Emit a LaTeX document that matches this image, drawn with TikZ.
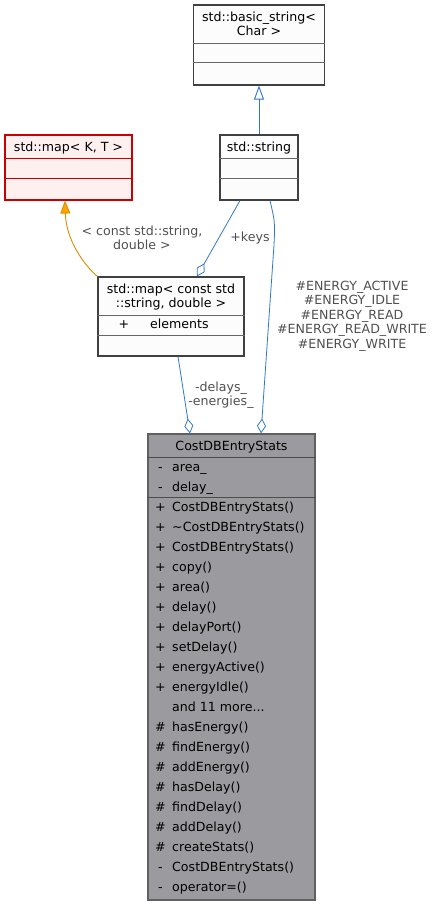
\documentclass[tikz,border=0pt]{standalone}
\usepackage{fontspec}
\setmainfont{DejaVu Sans}
\usetikzlibrary{arrows.meta,calc}
\definecolor{boxline}{HTML}{404040}
\definecolor{boxfill}{HTML}{FBFCFB}
\definecolor{redline}{HTML}{CC0000}
\definecolor{redfill}{HTML}{FFF0F0}
\definecolor{mainfill}{HTML}{9B9A9E}
\definecolor{mainline}{HTML}{606060}
\definecolor{edgeblue}{HTML}{3278C8}
\definecolor{edgeorange}{HTML}{D98E00}
\definecolor{arrorange}{HTML}{FFA500}
\definecolor{lblgray}{HTML}{505050}
\newcommand{\moretxt}{and 11 more...}
\newcommand{\hashsym}{\#}
\tikzset{
  lightbox/.style={draw=boxline, fill=boxfill, line width=1.1pt, inner sep=0pt, rectangle},
  redbox/.style={draw=redline, fill=redfill, line width=1.1pt, inner sep=0pt, rectangle},
  mainbox/.style={draw=mainline, fill=mainfill, line width=1.1pt, inner sep=0pt, rectangle},
  divline/.style={draw=gray!80!black, line width=0.9pt},
  txt/.style={anchor=base, inner sep=0pt},
  ltxt/.style={anchor=base west, inner sep=0pt},
  lbl/.style={text=lblgray, align=center, inner sep=0pt},
  inh/.style={draw=edgeblue, line width=0.9pt, -{Triangle[open, length=14pt, width=10pt]}},
  tmpl/.style={draw=edgeorange, line width=0.9pt, -{Triangle[length=13pt, width=10pt, fill=arrorange]}},
  uses/.style={draw=edgeblue, line width=0.8pt, -{Diamond[open, length=15pt, width=9pt]}}
}
\begin{document}
\begin{tikzpicture}[x=1pt,y=-1pt, font=\fontsize{12.6}{14.5}\selectfont]
\useasboundingbox (0,0) rectangle (435,905);

% std::basic_string<Char>
\node[lightbox, minimum width=131pt, minimum height=80pt] (bs) at (259,45) {};
\draw[divline] (bs.west |- 0,43) -- (bs.east |- 0,43);
\draw[divline] (bs.west |- 0,62) -- (bs.east |- 0,62);
\node[txt] (bst1) at (259,21.5) {std::basic\_string<};
\node[txt] (bst2) at (259,35.5) {Char >};

% std::map<K,T>
\node[redbox, minimum width=127pt, minimum height=65pt] (mkt) at (68.5,167.5) {};
\draw[redline, line width=0.9pt] (mkt.west |- 0,158) -- (mkt.east |- 0,158);
\draw[redline, line width=0.9pt] (mkt.west |- 0,178) -- (mkt.east |- 0,178);
\node[txt] (mktt) at (68.5,151.5) {std::map< K, T >};

% std::string
\node[lightbox, minimum width=78pt, minimum height=65pt] (str) at (259,167.5) {};
\draw[divline] (str.west |- 0,158) -- (str.east |- 0,158);
\draw[divline] (str.west |- 0,178) -- (str.east |- 0,178);
\node[txt] (strt) at (259,151.5) {std::string};

% std::map<const std::string,double>
\node[lightbox, minimum width=146pt, minimum height=79pt] (mc) at (171,316.5) {};
\draw[divline] (mc.west |- 0,315) -- (mc.east |- 0,315);
\draw[divline] (mc.west |- 0,335) -- (mc.east |- 0,335);
\node[txt] (mct1) at (171,293.5) {std::map< const std};
\node[txt] (mct2) at (171,307.5) {::string, double >};
\node[txt] (mcs) at (124,328.5) {+};
\node[ltxt] (mce) at (150,328.5) {elements};

% CostDBEntryStats
\node[mainbox, minimum width=167pt, minimum height=466pt] (cde) at (231.5,667) {};
\draw[divline, draw=gray!60!black] (cde.west |- 0,457) -- (cde.east |- 0,457);
\draw[divline, draw=gray!60!black] (cde.west |- 0,497) -- (cde.east |- 0,497);
\node[txt] (cdet) at (231.5,450.5) {CostDBEntryStats};
\node[txt] (a1s) at (160.5,471.5) {-};
\node[ltxt] (a1) at (172,471.5) {area\_};
\node[txt] (a2s) at (160.5,491.5) {-};
\node[ltxt] (a2) at (172,491.5) {delay\_};
\foreach \s/\t [count=\i from 0] in {
  +/CostDBEntryStats(),
  +/\textasciitilde CostDBEntryStats(),
  +/CostDBEntryStats(),
  +/copy(),
  +/area(),
  +/delay(),
  +/delayPort(),
  +/setDelay(),
  +/energyActive(),
  +/energyIdle(),
  {}/\moretxt,
  \hashsym/hasEnergy(),
  \hashsym/findEnergy(),
  \hashsym/addEnergy(),
  \hashsym/hasDelay(),
  \hashsym/findDelay(),
  \hashsym/addDelay(),
  \hashsym/createStats(),
  -/CostDBEntryStats(),
  -/operator=()
}{
  \node[txt] (ms\i) at (160.5,{511.5+20*\i}) {\s};
  \node[ltxt] (m\i) at (172,{511.5+20*\i}) {\t};
}

% edges
\draw[inh] (str.north) -- (bs.south);
\draw[tmpl] (mc.north west) .. controls (84,265) and (66,240) .. ([xshift=-3.5pt]mkt.south);
\draw[uses] ([xshift=-19pt]str.south) -- ([xshift=26pt]mc.north);
\draw[uses] ([xshift=11pt]str.south) .. controls (275,222) .. (274,245) -- ([xshift=29.5pt]cde.north);
\draw[uses] ([xshift=7pt]mc.south) -- ([xshift=-41.5pt]cde.north);

% labels
\node[lbl] (ltmpl) at (142,238) {< const std::string,\\ double >};
\node[lbl] (lkeys) at (250,238) {+keys};
\node[lbl] (lenergy) at (352,316) {\#ENERGY\_ACTIVE\\\#ENERGY\_IDLE\\\#ENERGY\_READ\\\#ENERGY\_READ\_WRITE\\\#ENERGY\_WRITE};
\node[lbl] (ldelay) at (221,395) {-delays\_\\-energies\_};
\end{tikzpicture}
\end{document}
